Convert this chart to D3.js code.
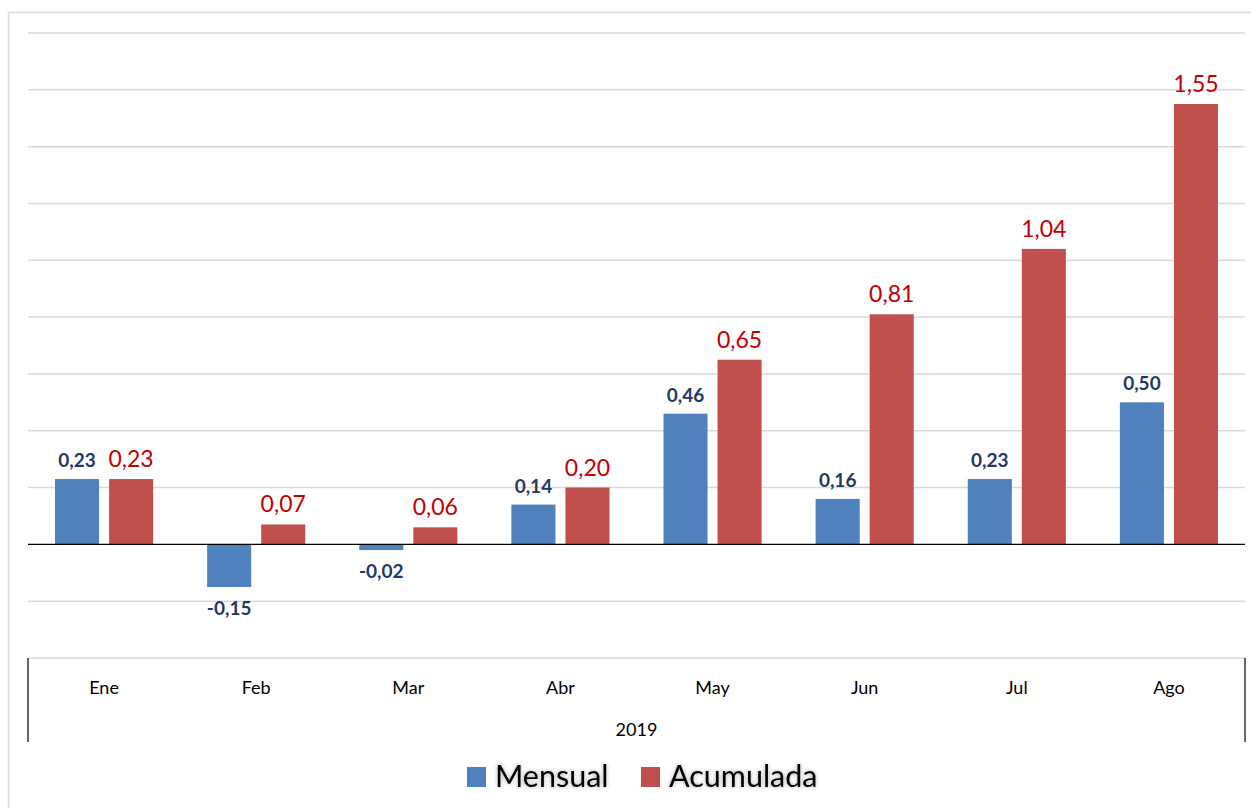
<!DOCTYPE html>
<html>
<head>
<meta charset="utf-8">
<script src="https://cdn.jsdelivr.net/npm/d3@7"></script>
<style>
  body { margin: 0; background: #fff; }
  svg { display: block; font-family: Lato, "Open Sans", sans-serif; }
</style>
</head>
<body>
<div id="chart"></div>
<script>
let W = 1251
let H = 808

// data
let months = ['Ene', 'Feb', 'Mar', 'Abr', 'May', 'Jun', 'Jul', 'Ago']
let series = ['Mensual', 'Acumulada']
let mensual = [0.23, -0.15, -0.02, 0.14, 0.46, 0.16, 0.23, 0.50]
let acumulada = [0.23, 0.07, 0.06, 0.20, 0.65, 0.81, 1.04, 1.55]
let yTicks = [-0.4, -0.2, 0, 0.2, 0.4, 0.6, 0.8, 1.0, 1.2, 1.4, 1.6, 1.8]
let yearLabel = '2019'

let colors = { Mensual: '#4F81BD', Acumulada: '#C0504D' }
let labelColors = { Mensual: '#1F3864', Acumulada: '#C00000' }

let plotL = 28
let plotR = 1245
let plotT = 33
let plotB = 658

let svg = d3
	.select('#chart')
	.append('svg')
	.attr('width', W)
	.attr('height', H)

// soft glow for the legend text
let glow = svg.append('defs').append('filter').attr('id', 'glow')
	.attr('x', '-10%').attr('y', '-30%').attr('width', '120%').attr('height', '160%')
glow.append('feGaussianBlur').attr('in', 'SourceAlpha').attr('stdDeviation', 2.2).attr('result', 'b')
glow.append('feComponentTransfer').attr('in', 'b').attr('result', 'c')
	.append('feFuncA').attr('type', 'linear').attr('slope', 0.35)
let merge = glow.append('feMerge')
merge.append('feMergeNode').attr('in', 'c')
merge.append('feMergeNode').attr('in', 'SourceGraphic')

// outer chart border
svg.append('rect')
	.attr('x', 8.5).attr('y', 12.5)
	.attr('width', W).attr('height', H)
	.attr('fill', 'none')
	.attr('stroke', '#d9d9d9')
	.attr('stroke-width', 1.5)

let x0 = d3.scaleBand().domain(months).range([plotL, plotR])
let x1 = d3.scaleBand().domain(series)
	.range([27, x0.bandwidth() - 27])
	.paddingInner(0.185)
let y = d3.scaleLinear().domain([-0.4, 1.8]).range([plotB, plotT])

// gridlines
svg.append('g')
	.selectAll('line')
	.data(yTicks.filter(d => d !== 0))
	.join('line')
	.attr('x1', plotL).attr('x2', plotR)
	.attr('y1', d => y(d)).attr('y2', d => y(d))
	.attr('stroke', '#d9d9d9')
	.attr('stroke-width', 1.5)

let fmt = v => d3.format('.2f')(v).replace('.', ',').replace('\u2212', '-')

let rows = months.map((m, i) => ({ m, vals: [
	{ s: 'Mensual', v: mensual[i] },
	{ s: 'Acumulada', v: acumulada[i] }
] }))

let groups = svg.append('g')
	.selectAll('g')
	.data(rows)
	.join('g')
	.attr('transform', d => `translate(${x0(d.m)},0)`)

groups.selectAll('rect')
	.data(d => d.vals)
	.join('rect')
	.attr('x', d => x1(d.s))
	.attr('width', x1.bandwidth())
	.attr('y', d => y(Math.max(0, d.v)))
	.attr('height', d => Math.abs(y(d.v) - y(0)))
	.attr('fill', d => colors[d.s])

groups.selectAll('text')
	.data(d => d.vals)
	.join('text')
	.attr('x', d => x1(d.s) + x1.bandwidth() / 2)
	.attr('y', d => d.v >= 0 ? y(d.v) - 12 : y(d.v) + 28)
	.attr('text-anchor', 'middle')
	.attr('fill', d => labelColors[d.s])
	.attr('font-size', d => d.s === 'Mensual' ? 19 : 23)
	.attr('font-weight', d => d.s === 'Mensual' ? 'bold' : 'normal')
	.text(d => fmt(d.v))

// zero line
svg.append('line')
	.attr('x1', plotL).attr('x2', plotR)
	.attr('y1', y(0)).attr('y2', y(0))
	.attr('stroke', '#000')
	.attr('stroke-width', 1.2)

// category axis
let xAxis = svg.append('g')
	.attr('transform', `translate(0,${plotB})`)
	.call(d3.axisBottom(x0).tickSize(0).tickPadding(23))
xAxis.select('.domain').remove()
xAxis.selectAll('text')
	.attr('font-size', 18)
	.attr('fill', '#000')
	.attr('font-family', 'Lato, "Open Sans", sans-serif')

svg.append('g')
	.selectAll('line')
	.data([plotL, plotR])
	.join('line')
	.attr('x1', d => d).attr('x2', d => d)
	.attr('y1', plotB).attr('y2', 742)
	.attr('stroke', '#000')
	.attr('stroke-width', 1.2)

svg.append('text')
	.attr('x', (plotL + plotR) / 2)
	.attr('y', 736)
	.attr('text-anchor', 'middle')
	.attr('font-size', 18)
	.attr('fill', '#000')
	.text(yearLabel)

// legend
let legendX = [467, 641]
let legend = svg.append('g')
	.selectAll('g')
	.data(series)
	.join('g')
	.attr('transform', (d, i) => `translate(${legendX[i]},767)`)
legend.append('rect')
	.attr('width', 19).attr('height', 20)
	.attr('fill', d => colors[d])
legend.append('text')
	.attr('x', 28)
	.attr('y', 20)
	.attr('font-size', 30.5)
	.attr('fill', '#000')
	.attr('filter', 'url(#glow)')
	.text(d => d)
</script>
</body>
</html>
